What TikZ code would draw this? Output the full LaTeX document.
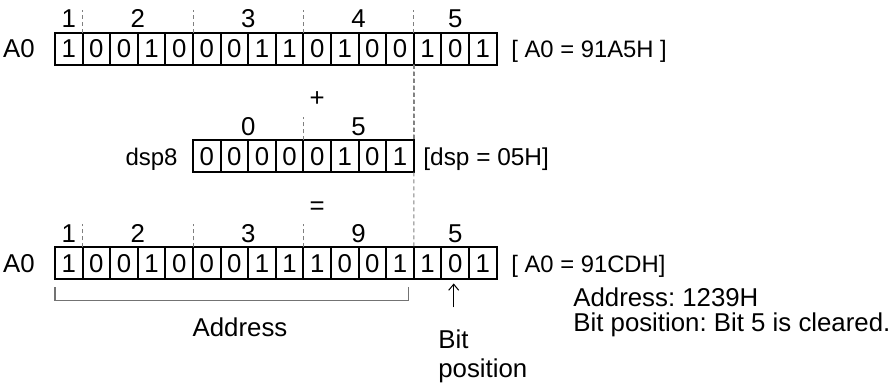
\documentclass[tikz,border=0pt]{standalone}
\usepackage{fontspec}
\setmainfont{Liberation Sans}
\usetikzlibrary{arrows.meta,calc}
\frenchspacing
\newcommand{\bitrow}[4]{% register #1 holding the bits #4, first cell centred at (#2,#3)
  \foreach \b [count=\i] in {#4}
    \node[bitcell] (#1\i) at ($(#2,#3)+({(\i-1)*27.6},0)$) {\b};
}
\newcommand{\nibtick}[1]{% short dashed group mark above the right edge of cell #1
  \draw[guide] (#1.north east) -- ++(0,-23);
}

\begin{document}
\begin{tikzpicture}[x=0.5pt,y=-0.5pt,
    every node/.style={font=\fontsize{12.9}{15}\selectfont, inner sep=0pt},
    bitcell/.style={draw, line width=1pt, outer sep=0pt, minimum width=13.8pt, minimum height=16pt},
    regval/.style={anchor=base west, font=\fontsize{11.9}{14}\selectfont},
    guide/.style={gray, line width=0.5pt, dash pattern=on 2pt off 1.5pt},
    bracket/.style={black!55, line width=0.6pt},
    ptr/.style={line width=0.5pt, -{Straight Barb[length=3pt,width=5pt]}}]
  \useasboundingbox (0,0) rectangle (896,383);

  % the three registers
  \bitrow{top}{68.8}{49}{1,0,0,1,0,0,0,1,1,0,1,0,0,1,0,1}
  \bitrow{dsp}{206.8}{156.5}{0,0,0,0,0,1,0,1}
  \bitrow{bot}{68.8}{263.5}{1,0,0,1,0,0,0,1,1,1,0,0,1,1,0,1}

  % group values above the cells
  \foreach \c/\t in {top1.north/1, top3.north east/2, top7.north east/3,
                     top11.north east/4, top15.north/5,
                     dsp2.north east/0, dsp6.north east/5,
                     bot1.north/1, bot3.north east/2, bot7.north east/3,
                     bot11.north east/9, bot15.north/5}
    \node at ($(\c)+(0,-14)$) {\t};

  % group marks
  \foreach \n in {top1,top5,top9,top13,dsp4,bot1,bot5,bot9}
    \nibtick{\n}
  \draw[guide] (top13.south east) -- (dsp8.north east);
  \draw[guide] (dsp8.south east) -- (bot13.north east);

  % register names and values
  \node[anchor=base east] (topname) at (35,58) {A0};
  \node[anchor=base east, font=\fontsize{12}{14}\selectfont] (dspname) at (178,166) {dsp8};
  \node[anchor=base east] (botname) at (35,273) {A0};
  \node[regval] (topval) at (511,58) {[ A0 = 91A5H ]};
  \node[regval, font=\fontsize{12.2}{14}\selectfont] (dspval) at (423,166) {[dsp = 05H]};
  \node[regval] (botval) at (511,273) {[ A0 = 91CDH]};
  \node (plus) at ($(dsp5.north)+(0,-41)$) {+};
  \node (equals) at ($(dsp5.south)+(0,36)$) {=};

  % address part and bit position
  \coordinate (brl) at ($(bot1.south west)+(0,8)$);
  \coordinate (brr) at ($(bot13.south east)+(-5,8)$);
  \draw[bracket] (brl) -- ++(0,13) -| (brr);
  \node[anchor=base] (addrlabel) at (240,337) {Address};
  \coordinate (ptrtail) at ($(bot15.south)+(-1.5,28)$);
  \draw[ptr] (ptrtail) -- ($(bot15.south)+(-1.5,4)$);
  \node[anchor=base west] (bitlabel) at (438,349) {Bit};
  \node[anchor=base west] (poslabel) at (438,378) {position};
  \node[anchor=base west] (addrinfo) at (573,307) {Address: 1239H};
  \node[anchor=base west] (bitinfo) at (573,332) {Bit position: Bit 5 is cleared.};
\end{tikzpicture}
\end{document}
